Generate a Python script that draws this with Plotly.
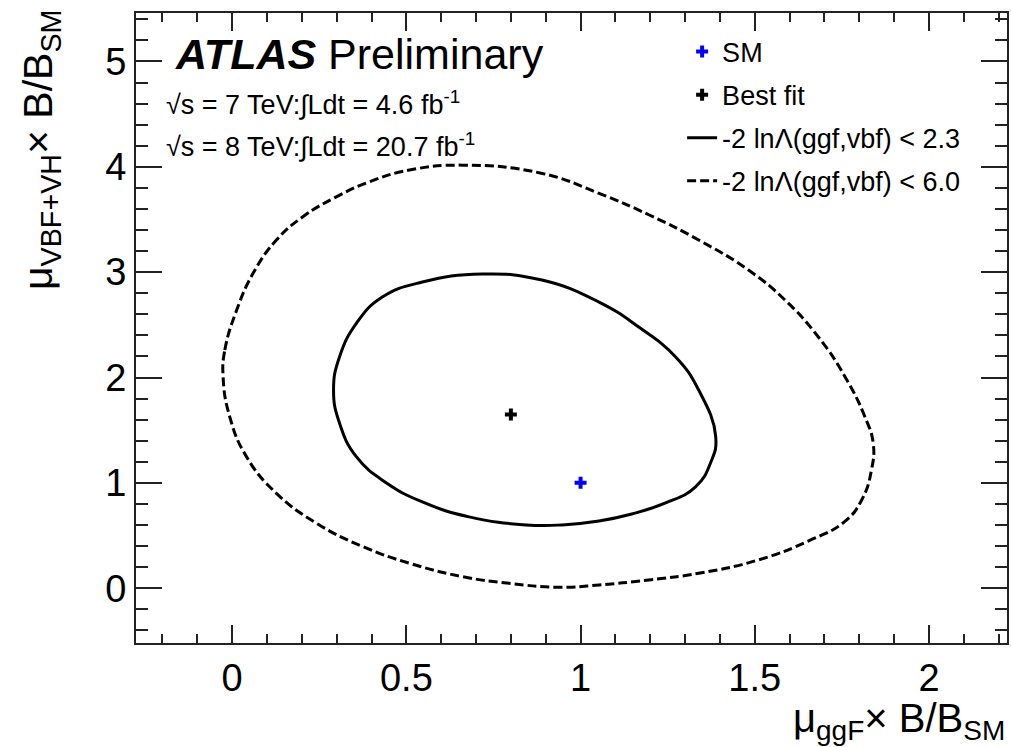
import plotly.graph_objects as go

# Contour -2lnL < 2.3 (solid)
inner_x = [0.291, 0.308, 0.357, 0.443, 0.546, 0.680, 0.844, 0.947, 1.053, 1.147, 1.244, 1.330, 1.373,
           1.388, 1.339, 1.273, 1.167, 1.053, 0.889, 0.718, 0.546, 0.431, 0.357, 0.308, 0.291]
inner_y = [1.883, 1.568, 1.246, 0.999, 0.819, 0.677, 0.601, 0.601, 0.638, 0.705, 0.809, 0.961, 1.189,
           1.436, 1.881, 2.195, 2.479, 2.716, 2.925, 2.982, 2.906, 2.764, 2.517, 2.195, 1.883]

# Contour -2lnL < 6.0 (dashed)
outer_x = [-0.026, -0.021, 0.013, 0.060, 0.127, 0.203, 0.299, 0.394, 0.509, 0.661, 0.890, 1.053,
           1.196, 1.339, 1.482, 1.587, 1.682, 1.759, 1.816, 1.840, 1.835, 1.807, 1.757, 1.655,
           1.511, 1.339, 1.196, 1.053, 0.938, 0.795, 0.661, 0.509, 0.375, 0.242, 0.127, 0.041,
           -0.007, -0.026]
outer_y = [2.008, 2.261, 2.640, 2.989, 3.305, 3.526, 3.715, 3.858, 3.969, 4.016, 3.937, 3.748,
           3.545, 3.305, 3.020, 2.735, 2.387, 2.008, 1.628, 1.376, 1.122, 0.838, 0.630, 0.450,
           0.269, 0.142, 0.079, 0.031, 0.009, 0.047, 0.110, 0.237, 0.395, 0.617, 0.901, 1.249,
           1.628, 2.008]

sm_x, sm_y = [1.0], [1.0]
fit_x, fit_y = [0.80], [1.65]

FONT = "Liberation Sans, Arial, Helvetica, sans-serif"

fig = go.Figure()
fig.add_trace(go.Scatter(x=sm_x, y=sm_y, mode="markers", name="SM", legendgroup="a",
                         marker=dict(symbol="cross", size=10, color="#0000ff", line=dict(width=0))))
fig.add_trace(go.Scatter(x=fit_x, y=fit_y, mode="markers", name="Best fit", legendgroup="b",
                         marker=dict(symbol="cross", size=10, color="black", line=dict(width=0))))
fig.add_trace(go.Scatter(x=inner_x, y=inner_y, mode="lines", name="-2 lnΛ(ggf,vbf) < 2.3",
                         legendgroup="c", line=dict(color="black", width=3, shape="spline", smoothing=1.3)))
fig.add_trace(go.Scatter(x=outer_x, y=outer_y, mode="lines", name="-2 lnΛ(ggf,vbf) < 6.0",
                         legendgroup="d", line=dict(color="black", width=3, dash="9px,4px",
                                                    shape="spline", smoothing=1.3)))

axis_common = dict(showline=True, linecolor="#222", linewidth=2, mirror="ticks", ticks="inside",
                   tickcolor="#222", tickwidth=2, showgrid=False, zeroline=False,
                   tickfont=dict(family=FONT, size=38, color="black"))

fig.update_xaxes(range=[-0.276, 2.224], tickvals=[0, 0.5, 1, 1.5, 2],
                 ticktext=["0", "0.5", "1", "1.5", "2"], ticklen=18,
                 minor=dict(dtick=0.1, tick0=0, ticks="inside", ticklen=9, tickcolor="#222", tickwidth=2),
                 **axis_common)
fig.update_yaxes(range=[-0.52, 5.46], tickvals=[0, 1, 2, 3, 4, 5], ticklen=26,
                 minor=dict(dtick=0.2, tick0=0, ticks="inside", ticklen=12, tickcolor="#222", tickwidth=2),
                 **axis_common)

fig.add_annotation(text="<b><i>ATLAS</i></b> Preliminary", xref="paper", yref="paper",
                   x=0.043, y=0.935, xanchor="left", yanchor="middle", showarrow=False,
                   font=dict(family=FONT, size=43, color="black"))
fig.add_annotation(text="√s = 7 TeV:∫Ldt = 4.6 fb<sup>-1</sup>", xref="paper", yref="paper",
                   x=0.032, y=0.857, xanchor="left", yanchor="middle", showarrow=False,
                   font=dict(family=FONT, size=27, color="black"))
fig.add_annotation(text="√s = 8 TeV:∫Ldt = 20.7 fb<sup>-1</sup>", xref="paper", yref="paper",
                   x=0.032, y=0.790, xanchor="left", yanchor="middle", showarrow=False,
                   font=dict(family=FONT, size=27, color="black"))
fig.add_annotation(text="μ<sub>ggF</sub>× B/B<sub>SM</sub>", xref="paper", yref="paper",
                   x=1.0, y=-0.081, xanchor="right", yanchor="top", showarrow=False,
                   font=dict(family=FONT, size=40, color="black"))
fig.add_annotation(text="μ<sub>VBF+VH</sub>× B/B<sub>SM</sub>", xref="paper", yref="paper",
                   x=-0.109, y=1.008, xanchor="center", yanchor="top", textangle=-90, showarrow=False,
                   font=dict(family=FONT, size=41, color="black"))

fig.update_layout(
    width=1011, height=747,
    margin=dict(l=136, r=2, t=13, b=104),
    paper_bgcolor="white", plot_bgcolor="white",
    showlegend=True,
    legend=dict(x=0.627, y=0.977, xanchor="left", yanchor="top", bgcolor="rgba(0,0,0,0)",
                font=dict(family=FONT, size=27, color="black"), traceorder="grouped",
                tracegroupgap=5),
)

fig.write_html("out.html")
